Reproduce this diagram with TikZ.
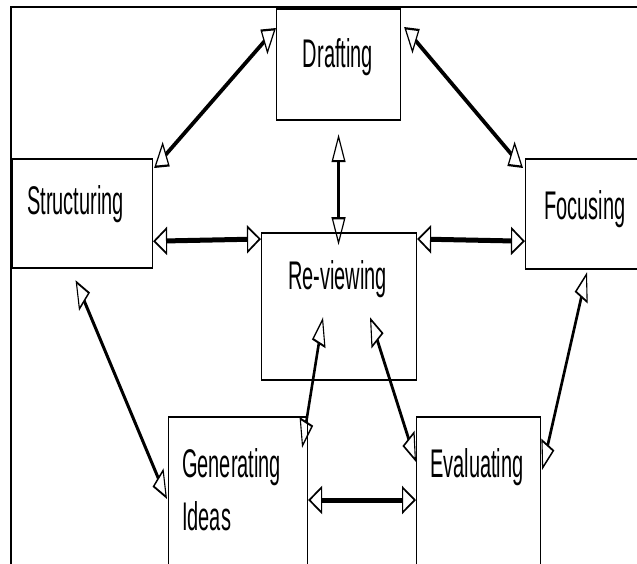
\documentclass[tikz,border=0pt]{standalone}
\usepackage{fontspec}
\setmainfont{Liberation Sans}
\usetikzlibrary{arrows.meta,calc}
\begin{document}
\begin{tikzpicture}[x=1pt,y=-1pt,
  box/.style={draw, line width=2.2pt, inner sep=0pt, anchor=north west},
  lbl/.style={font=\fontsize{40}{53}\selectfont, inner sep=0pt, anchor=base west},
  hollow/.style={Triangle[open,length=28pt,width=28pt,line width=2.2pt]},
  link/.style={line width=5pt, {Triangle[open,length=28pt,width=28pt,line width=2.2pt]}-{Triangle[open,length=28pt,width=28pt,line width=2.2pt]}}]
\useasboundingbox (0,0) rectangle (637,563);
\clip (0,0) rectangle (637,563);
\fill[white] (0,0) rectangle (637,563);
\draw[line width=2pt] (11,575) -- (11,7) -- (650,7);
\begin{scope}[transform canvas={xscale=0.5}]
  % boxes (unsqueezed coordinates: X = 2x)
  \node[box, minimum width=248pt, minimum height=111pt] (draft) at (552,8) {};
  \node[box, minimum width=280pt, minimum height=109pt] (struct) at (24,158) {};
  \node[box, minimum width=310pt, minimum height=147pt] (review) at (522,232) {};
  \node[box, minimum width=290pt, minimum height=110pt] (focus) at (1050,158) {};
  \node[box, minimum width=278pt, minimum height=170pt] (gen) at (336,416) {};
  \node[box, minimum width=248pt, minimum height=170pt] (eval) at (832,416) {};
  % labels
  \node[lbl, anchor=base] (tdraft) at (676,67) {Drafting};
  \node[lbl] (tstruct) at (54,214) {Structuring};
  \node[lbl, anchor=base] (tfocus) at (1170,219) {Focusing};
  \node[lbl] (treview) at (576,289) {Re-viewing};
  \node[lbl] (tgen) at (364,477) {Generating};
  \node[lbl] (tideas) at (364,530) {Ideas};
  \node[lbl] (teval) at (860,477) {Evaluating};
  % connectors
  \draw[link] ($(draft.north west)+(0,20)$) -- ($(struct.north east)+(2,10)$);
  \draw[link] ($(draft.north east)+(6,19)$) -- ($(focus.north west)+(-4,10)$);
  \draw[link] ($(draft.south)+(0,13)$) -- ($(draft.south)+(0,124)$);
  \draw[link] ($(struct.south east)+(0,-28)$) -- ($(review.north west)+(0,7)$);
  \draw[link] ($(review.north east)+(0,7)$) -- ($(focus.south west)+(0,-29)$);
  \draw[link] ($(struct.south)+(-14,11)$) -- ($(gen.north west)+(-2,83)$);
  \draw[link] ($(review.south west)+(124,-64)$) -- ($(gen.north east)+(-12,32)$);
  \draw[link] ($(review.south west)+(218,-64)$) -- ($(eval.north west)+(0,46)$);
  \draw[link] ($(focus.south west)+(124,2)$) -- ($(eval.north east)+(2,54)$);
  \draw[link] ($(gen.north east)+(0,84)$) -- ($(eval.north west)+(0,84)$);
\end{scope}
\end{tikzpicture}
\end{document}
